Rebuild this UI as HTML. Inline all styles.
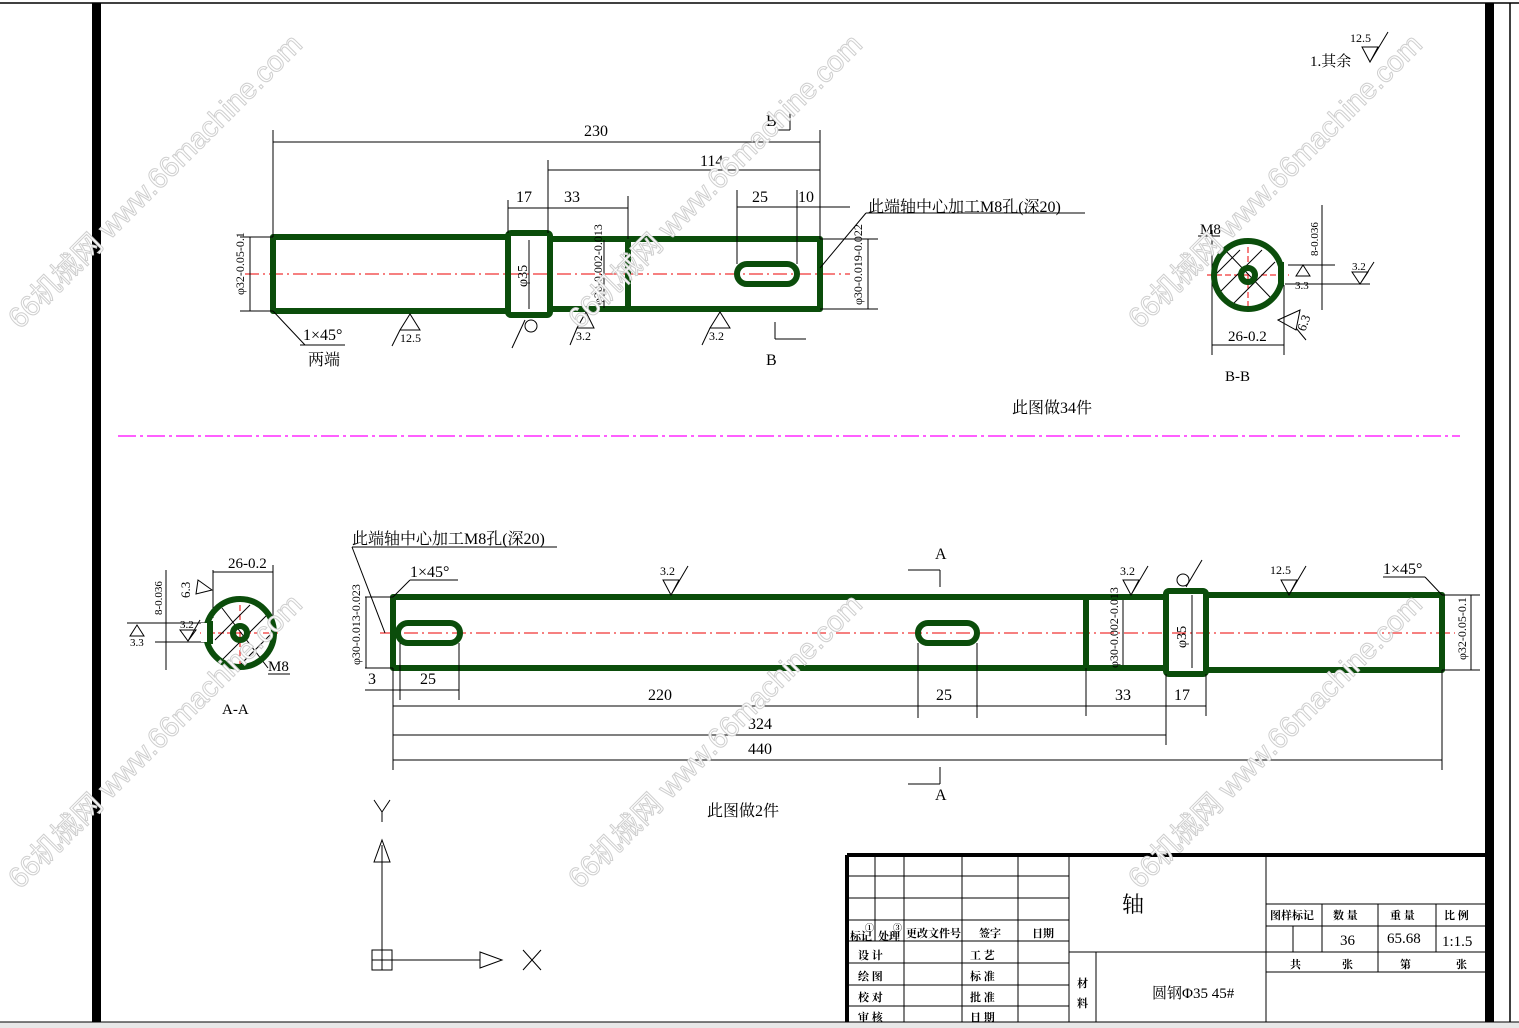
<!DOCTYPE html>
<html><head><meta charset="utf-8"><style>
html,body{margin:0;padding:0;background:#fff;}
svg{display:block;}
text{font-family:"Liberation Serif","Noto Serif CJK SC",serif;fill:#000;}
.g{fill:none;stroke:#0b4d0b;stroke-width:6;stroke-linejoin:round;}
.t{stroke:#000;stroke-width:1;fill:none;}
.c{stroke:#e00;stroke-width:1;stroke-dasharray:14 4 2 4;fill:none;}
.wm text{font-family:"Liberation Sans",sans-serif;font-size:29px;fill:#fff;stroke:#cfcfcf;stroke-width:1;}
</style></head><body>
<svg width="1519" height="1028" viewBox="0 0 1519 1028" xmlns="http://www.w3.org/2000/svg">
<rect x="0" y="0" width="1519" height="1028" fill="#fff"/>
<rect x="0" y="1022" width="1519" height="6" fill="#e8e8e8"/>
<line x1="0" y1="3" x2="1519" y2="3" stroke="#000" stroke-width="1.5"/>
<rect x="92" y="3" width="9" height="1019" fill="#000"/>
<rect x="1485" y="3" width="9" height="1019" fill="#000"/>
<line x1="1510" y1="3" x2="1510" y2="1022" stroke="#000" stroke-width="1.5"/>
<line x1="0" y1="1022" x2="1519" y2="1022" stroke="#000"/>

<!-- ===== UPPER SHAFT ===== -->
<line x1="245" y1="274" x2="850" y2="274" class="c"/>
<rect x="273" y="237" width="235" height="74" class="g"/>
<rect x="508" y="233" width="42" height="82" rx="3" class="g"/>
<rect x="550" y="239" width="270" height="70" class="g"/>
<line x1="628" y1="239" x2="628" y2="309" class="g"/>
<rect x="737" y="264" width="60" height="20" rx="10" class="g" stroke-width="4"/>
<g class="t">
<line x1="273" y1="130" x2="273" y2="237"/><line x1="820" y1="130" x2="820" y2="239"/>
<line x1="273" y1="142" x2="820" y2="142"/>
<line x1="548" y1="160" x2="548" y2="233"/><line x1="548" y1="170" x2="820" y2="170"/>
<line x1="508" y1="200" x2="508" y2="233"/><line x1="508" y1="208" x2="628" y2="208"/>
<line x1="628" y1="196" x2="628" y2="239"/>
<line x1="737" y1="190" x2="737" y2="264"/><line x1="797" y1="190" x2="797" y2="264"/>
<line x1="737" y1="207" x2="850" y2="207"/>
<line x1="240" y1="237" x2="273" y2="237"/><line x1="240" y1="311" x2="273" y2="311"/>
<line x1="250" y1="237" x2="250" y2="311"/>
<line x1="820" y1="239" x2="878" y2="239"/><line x1="820" y1="309" x2="878" y2="309"/>
<line x1="868" y1="239" x2="868" y2="309"/>
<line x1="529" y1="240" x2="529" y2="309"/><line x1="604" y1="240" x2="604" y2="308"/>
<line x1="273" y1="311" x2="305" y2="345"/><line x1="300" y1="345" x2="345" y2="345"/>
<line x1="820" y1="268" x2="866" y2="213"/><line x1="866" y1="213" x2="1085" y2="213"/>
<line x1="775" y1="322" x2="775" y2="339"/><line x1="775" y1="339" x2="806" y2="339"/>
<line x1="790" y1="110" x2="790" y2="130"/><line x1="775" y1="130" x2="790" y2="130"/>
</g>
<g font-size="16">
<text x="584" y="136">230</text><text x="700" y="166">114</text>
<text x="516" y="202">17</text><text x="564" y="202">33</text>
<text x="752" y="202">25</text><text x="798" y="202">10</text>
<text x="303" y="340">1×45°</text>
<text x="308" y="365">两端</text>
<text x="766" y="126">B</text><text x="766" y="365">B</text>
<text x="868" y="212">此端轴中心加工M8孔(深20)</text>
<text x="1012" y="413">此图做34件</text>
</g>
<g font-size="12">
<text transform="translate(244 295) rotate(-90)">φ32-0.05-0.1</text>
<text transform="translate(527 287) rotate(-90)" font-size="14">φ35</text>
<text transform="translate(602 305) rotate(-90)">φ30-0.002-0.013</text>
<text transform="translate(862 305) rotate(-90)">φ30-0.019-0.022</text>
<text x="400" y="342">12.5</text><text x="576" y="340">3.2</text><text x="709" y="340">3.2</text>
</g>
<g class="t" stroke-width="2.5">
<path d="M400 330 L410 314 L420 330 Z M400 330 L392 346"/>
<path d="M577 328 L586 312 L594 328 Z M577 328 L570 345"/>
<path d="M710 328 L720 312 L730 328 Z M710 328 L702 345"/>
<circle cx="531" cy="326" r="6"/><path d="M525 320 L512 348"/>
</g>

<!-- B-B -->
<g class="t">
<line x1="1207" y1="275" x2="1289" y2="275" stroke="#e00" stroke-dasharray="6 3"/>
<line x1="1248" y1="238" x2="1248" y2="312" stroke="#e00" stroke-dasharray="6 3"/>
<line x1="1225" y1="250" x2="1270" y2="297"/>
<line x1="1215" y1="275" x2="1240" y2="250"/><line x1="1220" y1="292" x2="1262" y2="250"/><line x1="1232" y1="305" x2="1275" y2="262"/>
<line x1="1212" y1="230" x2="1212" y2="355"/><line x1="1284" y1="285" x2="1284" y2="355"/>
<line x1="1212" y1="345" x2="1284" y2="345"/>
<line x1="1285" y1="265" x2="1335" y2="265"/><line x1="1285" y1="284" x2="1370" y2="284"/>
<line x1="1322" y1="205" x2="1322" y2="310"/>
<line x1="1198" y1="236" x2="1220" y2="236"/>
</g>
<circle cx="1248" cy="275" r="34" class="g" stroke-width="5"/>
<circle cx="1248" cy="275" r="7" class="g" stroke-width="4"/>
<rect x="1278" y="264" width="10" height="19" fill="#fff"/>
<path d="M1281 262 L1281 285" class="g" stroke-width="4"/>
<g font-size="15"><text x="1200" y="234">M8</text><text x="1228" y="341">26-0.2</text><text x="1225" y="381">B-B</text></g>
<g font-size="11"><text transform="translate(1318 256) rotate(-90)">8-0.036</text><text x="1352" y="270">3.2</text><text x="1295" y="289">3.3</text>
<text transform="translate(1305 332) rotate(-70)" font-size="13">6.3</text></g>
<g class="t" stroke-width="1.2"><path d="M1296 276 L1303 265 L1310 276 Z M1352 272 L1368 272 L1360 284 Z M1360 284 L1374 262"/></g>
<path d="M1278 320 L1300 310 L1296 330 Z M1296 328 L1306 340" class="t" stroke-width="3"/>

<line x1="118" y1="436" x2="1460" y2="436" stroke="#f0f" stroke-width="1.2" stroke-dasharray="18 4 3 4"/>

<!-- ===== LOWER SHAFT ===== -->
<line x1="380" y1="633" x2="1455" y2="633" class="c"/>
<rect x="393" y="597" width="773" height="71" class="g"/>
<line x1="1086" y1="597" x2="1086" y2="668" class="g"/>
<rect x="1166" y="591" width="40" height="83" rx="3" class="g"/>
<rect x="1206" y="595" width="236" height="75" class="g"/>
<rect x="398" y="623" width="62" height="20" rx="10" class="g" stroke-width="4"/>
<rect x="918" y="623" width="59" height="20" rx="10" class="g" stroke-width="4"/>
<g class="t">
<line x1="393" y1="668" x2="393" y2="770"/><line x1="1442" y1="670" x2="1442" y2="770"/>
<line x1="393" y1="760" x2="1442" y2="760"/>
<line x1="393" y1="735" x2="1166" y2="735"/><line x1="1166" y1="674" x2="1166" y2="745"/>
<line x1="393" y1="706" x2="1086" y2="706"/>
<line x1="918" y1="643" x2="918" y2="718"/><line x1="977" y1="643" x2="977" y2="718"/>
<line x1="1086" y1="668" x2="1086" y2="716"/><line x1="1206" y1="674" x2="1206" y2="716"/>
<line x1="1086" y1="706" x2="1206" y2="706"/>
<line x1="400" y1="643" x2="400" y2="700"/><line x1="459" y1="643" x2="459" y2="700"/>
<line x1="365" y1="690" x2="459" y2="690"/>
<line x1="365" y1="597" x2="393" y2="597"/><line x1="365" y1="668" x2="393" y2="668"/>
<line x1="366" y1="597" x2="366" y2="668"/>
<line x1="1442" y1="595" x2="1480" y2="595"/><line x1="1442" y1="670" x2="1480" y2="670"/>
<line x1="1471" y1="595" x2="1471" y2="670"/>
<line x1="1123" y1="600" x2="1123" y2="665"/><line x1="1192" y1="595" x2="1192" y2="668"/>
<line x1="352" y1="547" x2="557" y2="547"/><line x1="352" y1="547" x2="385" y2="633"/>
<line x1="393" y1="597" x2="410" y2="580"/><line x1="410" y1="580" x2="458" y2="580"/>
<line x1="1383" y1="577" x2="1425" y2="577"/><line x1="1425" y1="577" x2="1442" y2="595"/>
<line x1="940" y1="570" x2="940" y2="587"/><line x1="908" y1="570" x2="940" y2="570"/>
<line x1="940" y1="767" x2="940" y2="784"/><line x1="908" y1="784" x2="940" y2="784"/>
</g>
<g font-size="16">
<text x="352" y="544">此端轴中心加工M8孔(深20)</text>
<text x="410" y="577">1×45°</text><text x="1383" y="574">1×45°</text>
<text x="368" y="684">3</text><text x="420" y="684">25</text>
<text x="648" y="700">220</text><text x="936" y="700">25</text>
<text x="1115" y="700">33</text><text x="1174" y="700">17</text>
<text x="748" y="729">324</text><text x="748" y="754">440</text>
<text x="935" y="559">A</text><text x="935" y="800">A</text>
<text x="707" y="816">此图做2件</text>
</g>
<g font-size="12">
<text transform="translate(360 665) rotate(-90)">φ30-0.013-0.023</text>
<text transform="translate(1118 668) rotate(-90)">φ30-0.002-0.013</text>
<text transform="translate(1186 648) rotate(-90)" font-size="14">φ35</text>
<text transform="translate(1466 660) rotate(-90)">φ32-0.05-0.1</text>
<text x="660" y="575">3.2</text><text x="1120" y="575">3.2</text><text x="1270" y="574">12.5</text>
</g>
<g class="t" stroke-width="2.5">
<path d="M663 580 L679 580 L671 595 Z M671 595 L688 566"/>
<path d="M1123 580 L1139 580 L1131 595 Z M1131 595 L1148 566"/>
<path d="M1281 580 L1297 580 L1289 595 Z M1289 595 L1306 566"/>
<circle cx="1183" cy="580" r="6"/><path d="M1186 587 L1202 560"/>
</g>

<!-- A-A -->
<g class="t">
<line x1="200" y1="633" x2="280" y2="633" stroke="#e00" stroke-dasharray="6 3"/>
<line x1="240" y1="596" x2="240" y2="670" stroke="#e00" stroke-dasharray="6 3"/>
<line x1="222" y1="608" x2="268" y2="668"/>
<line x1="215" y1="640" x2="250" y2="605"/><line x1="222" y1="660" x2="268" y2="614"/><line x1="238" y1="667" x2="273" y2="632"/>
<line x1="213" y1="570" x2="213" y2="618"/><line x1="273" y1="565" x2="273" y2="630"/>
<line x1="213" y1="572" x2="273" y2="572"/>
<line x1="127" y1="623" x2="210" y2="623"/><line x1="155" y1="642" x2="210" y2="642"/>
<line x1="166" y1="570" x2="166" y2="670"/>
<line x1="268" y1="674" x2="290" y2="674"/>
</g>
<circle cx="240" cy="633" r="34" class="g" stroke-width="5"/>
<circle cx="240" cy="633" r="7" class="g" stroke-width="4"/>
<rect x="201" y="623" width="10" height="19" fill="#fff"/>
<path d="M210 621 L210 644" class="g" stroke-width="4"/>
<g font-size="15"><text x="228" y="568">26-0.2</text><text x="268" y="671">M8</text><text x="222" y="714">A-A</text></g>
<g font-size="11"><text transform="translate(162 615) rotate(-90)">8-0.036</text><text x="180" y="628">3.2</text><text x="130" y="646">3.3</text>
<text transform="translate(190 598) rotate(-90)" font-size="13">6.3</text></g>
<g class="t" stroke-width="1.2"><path d="M130 636 L137 625 L144 636 Z M180 630 L196 630 L188 641 Z M188 641 L200 620"/></g>
<path d="M198 580 L212 590 L196 594 Z" class="t" stroke-width="3"/>

<!-- UCS icon -->
<g class="t">
<line x1="382" y1="845" x2="382" y2="960"/>
<path d="M374 862 L382 840 L390 862 Z"/>
<line x1="382" y1="960" x2="480" y2="960"/>
<path d="M480 952 L502 960 L480 968 Z"/>
<rect x="372" y="950" width="20" height="20"/><line x1="372" y1="960" x2="392" y2="960"/><line x1="382" y1="950" x2="382" y2="970"/>
<path d="M374 800 L382 812 L390 800 M382 812 L382 822"/>
<path d="M523 950 L541 970 M541 950 L523 970"/>
</g>

<!-- Title block -->
<g stroke="#000" fill="none">
<path d="M847 855 L1486 855" stroke-width="4"/>
<path d="M847 855 L847 1022" stroke-width="4"/>
<g stroke-width="1">
<line x1="847" y1="876" x2="1069" y2="876"/><line x1="847" y1="898" x2="1069" y2="898"/>
<line x1="847" y1="920" x2="1069" y2="920"/><line x1="847" y1="941" x2="1069" y2="941"/>
<line x1="847" y1="963" x2="1069" y2="963"/><line x1="847" y1="985" x2="1069" y2="985"/>
<line x1="847" y1="1006" x2="1069" y2="1006"/>
<line x1="875" y1="855" x2="875" y2="941"/><line x1="904" y1="855" x2="904" y2="1022"/>
<line x1="962" y1="855" x2="962" y2="1022"/><line x1="1018" y1="855" x2="1018" y2="1022"/>
<line x1="1069" y1="855" x2="1069" y2="1022"/>
<line x1="1069" y1="952" x2="1486" y2="952"/>
<line x1="1096" y1="952" x2="1096" y2="1022"/>
<line x1="1266" y1="855" x2="1266" y2="1022"/>
<line x1="1266" y1="904" x2="1486" y2="904"/><line x1="1266" y1="926" x2="1486" y2="926"/>
<line x1="1266" y1="972" x2="1486" y2="972"/>
<line x1="1293" y1="926" x2="1293" y2="952"/>
<line x1="1322" y1="904" x2="1322" y2="952"/><line x1="1378" y1="904" x2="1378" y2="972"/>
<line x1="1436" y1="904" x2="1436" y2="952"/>
</g></g>
<g font-size="11" font-weight="bold">
<text x="850" y="940">标记</text><text x="878" y="940">处理</text><text x="865" y="931" font-size="9">①</text><text x="893" y="931" font-size="9">③</text>
<text x="906" y="937">更改文件号</text><text x="979" y="937">签字</text><text x="1032" y="937">日期</text>
<text x="858" y="959">设 计</text><text x="858" y="980">绘 图</text><text x="858" y="1001">校 对</text><text x="858" y="1021">审 核</text>
<text x="970" y="959">工 艺</text><text x="970" y="980">标 准</text><text x="970" y="1001">批 准</text><text x="970" y="1021">日 期</text>
<text x="1077" y="987">材</text><text x="1077" y="1007">料</text>
<text x="1270" y="919">图样标记</text><text x="1333" y="919">数 量</text><text x="1390" y="919">重 量</text><text x="1444" y="919">比 例</text>
<text x="1290" y="968">共</text><text x="1342" y="968">张</text><text x="1400" y="968">第</text><text x="1456" y="968">张</text>
</g>
<text x="1122" y="912" font-size="22">轴</text>
<text x="1152" y="998" font-size="15">圆钢Φ35 45#</text>
<g font-size="15"><text x="1340" y="945">36</text><text x="1387" y="943">65.68</text><text x="1442" y="946">1:1.5</text></g>

<!-- top-right roughness -->
<text x="1310" y="66" font-size="15">1.其余</text>
<text x="1350" y="42" font-size="12">12.5</text>
<path d="M1362 47 L1378 47 L1370 62 Z M1370 62 L1388 32" class="t" stroke-width="2.5"/>

<!-- watermarks -->
<g class="wm">
<text x="20" y="330" transform="rotate(-45 20 330)">66机械网 www.66machine.com</text>
<text x="580" y="330" transform="rotate(-45 580 330)">66机械网 www.66machine.com</text>
<text x="1140" y="330" transform="rotate(-45 1140 330)">66机械网 www.66machine.com</text>
<text x="20" y="890" transform="rotate(-45 20 890)">66机械网 www.66machine.com</text>
<text x="580" y="890" transform="rotate(-45 580 890)">66机械网 www.66machine.com</text>
<text x="1140" y="890" transform="rotate(-45 1140 890)">66机械网 www.66machine.com</text>
</g>
</svg>
</body></html>
